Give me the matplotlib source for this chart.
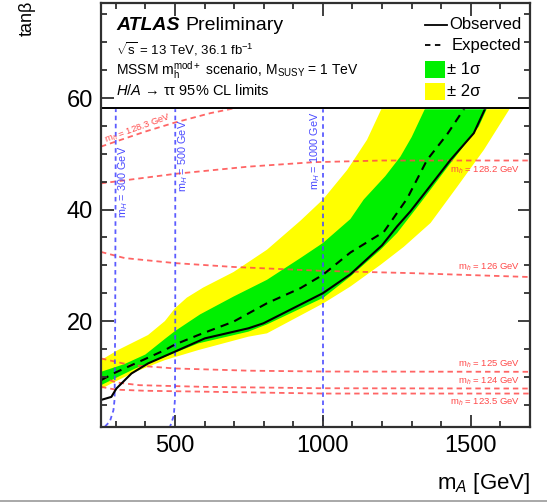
import matplotlib
matplotlib.use("Agg")
import matplotlib.pyplot as plt
from matplotlib.patches import Rectangle
from matplotlib.lines import Line2D
from matplotlib.ticker import MultipleLocator

plt.rcParams['font.family'] = ['Liberation Sans', 'DejaVu Sans']
plt.rcParams['mathtext.fontset'] = 'custom'
plt.rcParams['mathtext.rm'] = 'Liberation Sans'
plt.rcParams['mathtext.it'] = 'Liberation Sans:italic'
plt.rcParams['mathtext.bf'] = 'Liberation Sans:bold'

# ---------------- data ----------------
obs_mA = [250, 285, 302, 353, 409, 499, 601, 748, 799, 1000, 1093, 1200, 1251, 1296, 1352, 1431, 1510, 1550]
obs_tb = [5.85, 6.4, 7.9, 10.6, 12.4, 14.5, 16.9, 18.7, 19.6, 25.0, 28.4, 33.6, 37.0, 39.7, 43.5, 48.9, 53.7, 58.3]

exp_mA = [250, 300, 366, 466, 500, 579, 698, 811, 924, 1000, 1093, 1206, 1285, 1352, 1420, 1480]
exp_tb = [9.4, 10.8, 12.4, 14.8, 15.8, 17.5, 19.9, 23.2, 25.9, 28.3, 32.3, 36.0, 42.0, 48.9, 53.5, 58.3]

g_up_mA = [250, 330, 400, 466, 500, 585, 698, 811, 924, 1000, 1093, 1138, 1211, 1262, 1300, 1347]
g_up_tb = [10.9, 12.3, 14.0, 16.8, 18.2, 21.2, 24.4, 27.4, 31.3, 34.0, 38.3, 41.8, 46.0, 49.5, 53.0, 58.3]
g_lo_mA = [250, 366, 466, 579, 748, 811, 1002, 1093, 1195, 1251, 1330, 1431, 1527, 1556]
g_lo_tb = [8.5, 11.5, 13.6, 16.0, 18.1, 19.4, 24.2, 28.0, 32.8, 35.8, 41.2, 48.3, 54.9, 58.3]

y_up_mA = [250, 307, 409, 466, 500, 540, 595, 698, 811, 924, 1000, 1082, 1149, 1200]
y_up_tb = [13.0, 14.8, 17.5, 20.0, 22.3, 24.2, 26.0, 28.8, 32.8, 38.0, 41.8, 47.1, 52.5, 58.3]
y_lo_mA = [250, 285, 366, 466, 579, 748, 811, 1002, 1093, 1195, 1273, 1364, 1454, 1544, 1634]
y_lo_tb = [7.8, 8.8, 10.9, 13.0, 14.8, 17.2, 17.8, 23.2, 26.2, 30.1, 33.3, 37.6, 44.1, 50.7, 58.3]

# light Higgs mass contours (m_h)
mh_labels = ['128.3', '128.2', '126', '125', '124', '123.5']
mh_mA = [
    [250, 400, 499, 620, 740],
    [250, 499, 748, 968, 1200, 1700],
    [250, 330, 500, 700, 1000, 1300, 1700],
    [250, 350, 500, 750, 1000, 1700],
    [250, 300, 380, 600, 1000, 1700],
    [250, 300, 400, 1000, 1700],
]
mh_tb = [
    [51.3, 54.0, 55.6, 57.3, 58.6],
    [44.7, 46.4, 47.7, 48.5, 48.8, 48.8],
    [32.4, 31.3, 30.4, 29.7, 29.0, 28.6, 27.9],
    [13.3, 12.1, 11.5, 11.1, 10.95, 10.9],
    [10.0, 9.0, 8.5, 8.2, 7.95, 7.9],
    [8.2, 7.7, 7.5, 7.0, 7.0],
]

# heavy Higgs mass contours (m_H)
mH_labels = ['300', '500', '1000']
mH_mA = [
    [300, 298, 296, 292, 280, 262],
    [501, 501, 500, 496, 483],
    [1000, 1000],
]
mH_tb = [
    [58.3, 20, 6, 4, 2, 1],
    [58.3, 20, 6, 3, 1],
    [58.3, 1],
]

x_ticks = [500, 1000, 1500]
y_ticks = [20, 40, 60]

# ---------------- figure ----------------
fig = plt.figure(figsize=(5.47, 5.03), dpi=100)
ax = fig.add_axes([101/547, 76/503, 429/547, 423.7/503])
ax.set_xlim(250, 1700)
ax.set_ylim(1, 77)
ax.set_axisbelow(False)

yellow = '#ffff00'
green = '#00f000'
red = '#ff4a4a'
blue = '#4a4aff'

ax.fill(y_up_mA + y_lo_mA[::-1], y_up_tb + y_lo_tb[::-1], color=yellow, lw=0, zorder=1.0)
ax.fill(g_up_mA + g_lo_mA[::-1], g_up_tb + g_lo_tb[::-1], color=green, lw=0, zorder=1.1)

for xs, ys in zip(mh_mA, mh_tb):
    ax.plot(xs, ys, color=red, lw=1.3, dashes=(3, 2.2), alpha=0.85, zorder=1.3)
for xs, ys in zip(mH_mA, mH_tb):
    ax.plot(xs, ys, color=blue, lw=1.3, dashes=(2.5, 2), alpha=0.9, zorder=1.35)

ax.plot(exp_mA, exp_tb, color='black', lw=1.5, dashes=(4, 3), zorder=1.6)
ax.plot(obs_mA, obs_tb, color='black', lw=1.5, zorder=1.7)

# contour labels
lab_fs = 6.8
ax.text(375, 54.6, r'm$_h$ = 128.3 GeV', color=red, fontsize=lab_fs, rotation=20,
        ha='center', va='center', zorder=1.8, rotation_mode='anchor')
right_pos = [(1668, 47.1), (1668, 29.6), (1668, 12.2), (1668, 9.2), (1668, 5.5)]
for lab, (xx, yy) in zip(mh_labels[1:], right_pos):
    ax.text(xx, yy, r'm$_h$ = ' + lab + ' GeV', color=red, fontsize=lab_fs,
            ha='right', va='center', zorder=1.8)
mH_pos = [(326, 45.0), (528, 49.7), (974, 50.5)]
for lab, (xx, yy) in zip(mH_labels, mH_pos):
    ax.text(xx, yy, r'm$_H$ = ' + lab + ' GeV', color=blue, fontsize=7.8,
            rotation=90, ha='center', va='center', zorder=1.8)

# legend box area
ax.axhspan(58.3, 77, color='white', zorder=2.2)
ax.axhline(58.3, color='black', lw=1.4, zorder=2.3)

# axes styling
for s in ax.spines.values():
    s.set_linewidth(1.6)
    s.set_color('#303030')
ax.set_xticks(x_ticks)
ax.set_yticks(y_ticks)
ax.xaxis.set_minor_locator(MultipleLocator(100))
ax.yaxis.set_minor_locator(MultipleLocator(5))
ax.tick_params(which='both', direction='in', top=True, right=True, width=1.3, color='#303030')
ax.tick_params(which='major', length=9, labelsize=17, pad=6)
ax.tick_params(which='minor', length=4.5)

ax.text(1.0, -0.105, r'm$_{\mathit{A}}$ [GeV]', transform=ax.transAxes, ha='right', va='top', fontsize=16)
fig.text(27/547, 1 - 1/503, 'tanβ', rotation=90, ha='center', va='top', fontsize=13)

# texts in the box
def axp(px, py):
    return ((px - 101) / 429, (427 - py) / 423.7)

tx, ty = axp(116, 25)
t_atlas = ax.text(tx, ty, 'ATLAS', transform=ax.transAxes, fontsize=14, fontweight='bold',
                  fontstyle='italic', ha='left', va='center', zorder=3)
fig.canvas.draw()
bb = t_atlas.get_window_extent()
ax.annotate('Preliminary', xy=(bb.x1, bb.y0 + bb.height / 2), xycoords='figure pixels',
            xytext=(4, 0), textcoords='offset points', fontsize=14, ha='left', va='center', zorder=3)
tx, ty = axp(116, 49)
ax.text(tx, ty, r'$\sqrt{\mathrm{s}}$ = 13 TeV, 36.1 fb$^{\mathrm{-1}}$', transform=ax.transAxes,
        fontsize=9.5, ha='left', va='center', zorder=3)
tx, ty = axp(116, 70)
ax.text(tx, ty, r'MSSM m$_{\mathrm{h}}^{\mathrm{mod+}}$ scenario, M$_{\mathrm{SUSY}}$ = 1 TeV',
        transform=ax.transAxes, fontsize=10, ha='left', va='center', zorder=3)
tx, ty = axp(116, 90)
ax.text(tx, ty, r'$\mathit{H/A}$ → ττ 95% CL limits', transform=ax.transAxes,
        fontsize=10.5, ha='left', va='center', zorder=3)

# legend entries
x0, y0 = axp(425, 25)
x1, _ = axp(447, 25)
ax.add_line(Line2D([x0, x1], [y0, y0], transform=ax.transAxes, color='black', lw=1.3, zorder=3))
tx, ty = axp(521, 24)
ax.text(tx, ty, 'Observed', transform=ax.transAxes, fontsize=12, ha='right', va='center', zorder=3)
x0, y0 = axp(425, 45)
x1, _ = axp(443, 45)
ax.add_line(Line2D([x0, x1], [y0, y0], transform=ax.transAxes, color='black', lw=1.3,
                   dashes=(3, 2.5), zorder=3))
tx, ty = axp(521, 45)
ax.text(tx, ty, 'Expected', transform=ax.transAxes, fontsize=12, ha='right', va='center', zorder=3)
for (pyt, pyb), col, lab in [((61, 78), green, '± 1σ'), ((83, 100), yellow, '± 2σ')]:
    xa, ya = axp(425, pyb)
    xb, yb = axp(445, pyt)
    ax.add_patch(Rectangle((xa, ya), xb - xa, yb - ya, transform=ax.transAxes,
                           color=col, lw=0, zorder=3))
    tx, ty = axp(447, (pyt + pyb) / 2)
    ax.text(tx, ty, lab, transform=ax.transAxes, fontsize=12, ha='left', va='center', zorder=3)

# page separator line at the bottom
fig.add_artist(Line2D([0, 1], [2/503, 2/503], transform=fig.transFigure, color='#9a9a9a', lw=1.2))

fig.savefig('out.png', dpi=100)
